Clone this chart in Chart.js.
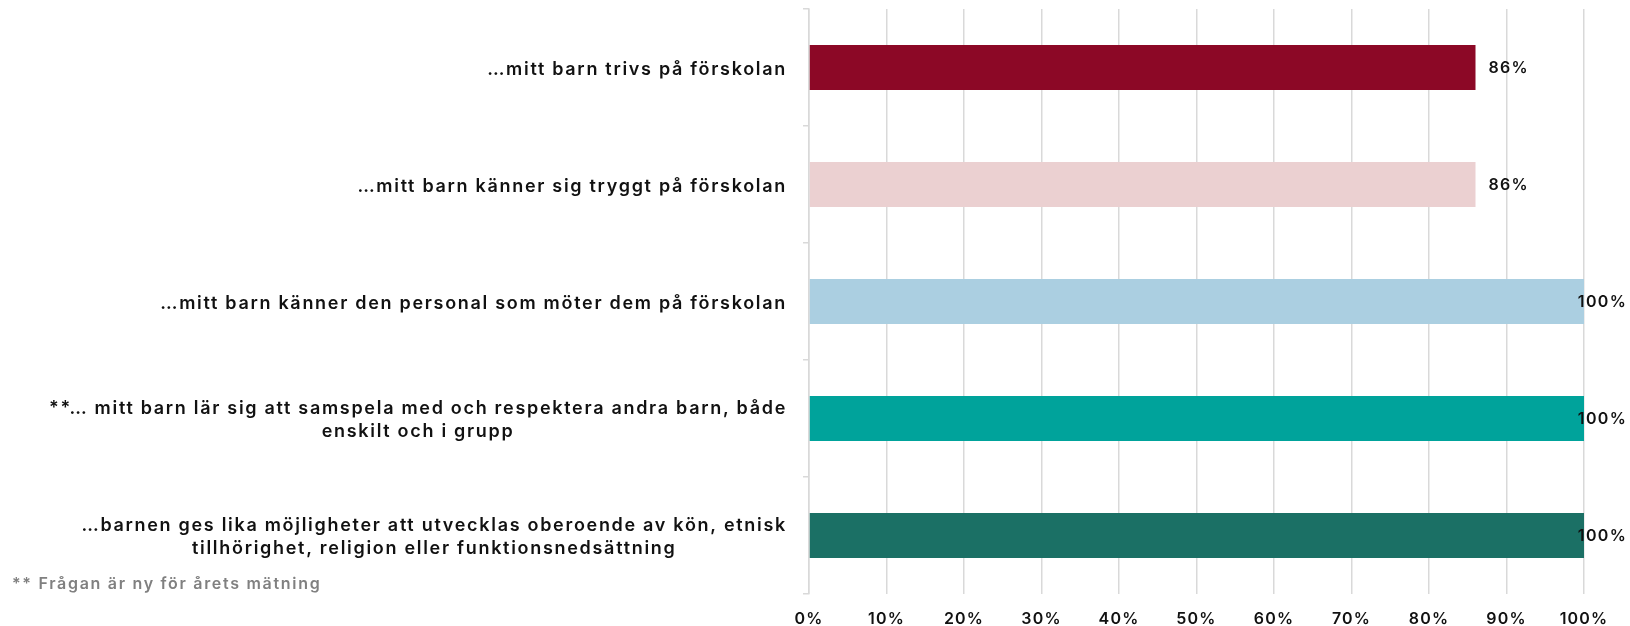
<!DOCTYPE html>
<html lang="sv">
<head>
<meta charset="utf-8">
<title>Förskolan – andel som instämmer</title>
<script src="https://cdn.jsdelivr.net/npm/chart.js@4.4.1/dist/chart.umd.min.js"></script>
<style>
  html, body { margin: 0; padding: 0; background: #fff; }
  canvas { display: block; }
</style>
</head>
<body>
<canvas id="chart" width="1630" height="626"></canvas>
<script>
'use strict';

// ── Data ─────────────────────────────────────────────────────────────────────
const categories = [
  ['…mitt barn trivs på förskolan'],
  ['…mitt barn känner sig tryggt på förskolan'],
  ['…mitt barn känner den personal som möter dem på förskolan'],
  ['**… mitt barn lär sig att samspela med och respektera andra barn, både', 'enskilt och i grupp'],
  ['…barnen ges lika möjligheter att utvecklas oberoende av kön, etnisk', 'tillhörighet, religion eller funktionsnedsättning'],
];
const values    = [86, 86, 100, 100, 100];
const barColors = ['#8c0826', '#ebd0d1', '#abcfe1', '#00a39b', '#1b7065'];
const xTicks    = [0, 10, 20, 30, 40, 50, 60, 70, 80, 90, 100];
const footnote  = '** Frågan är ny för årets mätning';

// ── Styling ──────────────────────────────────────────────────────────────────
const FONT_FAMILY = 'Inter, "Liberation Sans", Arial, sans-serif';
const GRID_COLOR  = '#d9d9d9';
const TEXT_COLOR  = '#111111';
const LINE_H      = 23;

// y-axis labels: right aligned per label, multi-line rows centred on each other
const categoryLabels = {
  id: 'categoryLabels',
  afterDraw(chart) {
    const { ctx } = chart;
    const y = chart.scales.y;
    const rightEdge = y.right - 22;
    ctx.save();
    ctx.font = `600 18px ${FONT_FAMILY}`;
    ctx.letterSpacing = '1.7px';
    ctx.fillStyle = TEXT_COLOR;
    ctx.textAlign = 'center';
    ctx.textBaseline = 'middle';
    categories.forEach((lines, i) => {
      const cy = y.getPixelForValue(i);
      const widest = Math.max(...lines.map(l => ctx.measureText(l).width));
      const cx = rightEdge - widest / 2;
      const y0 = cy - (lines.length - 1) * LINE_H / 2 + 2;
      lines.forEach((l, j) => ctx.fillText(l, cx, y0 + j * LINE_H));
    });

    ctx.font = `600 16px ${FONT_FAMILY}`;
    ctx.letterSpacing = '1.7px';
    ctx.fillStyle = '#808080';
    ctx.textAlign = 'left';
    ctx.fillText(footnote, 12, 584);
    ctx.restore();
  },
};

// value labels after the bar end, kept inside the canvas
const valueLabels = {
  id: 'valueLabels',
  afterDatasetsDraw(chart) {
    const { ctx } = chart;
    const meta = chart.getDatasetMeta(0);
    ctx.save();
    ctx.font = `600 16px ${FONT_FAMILY}`;
    ctx.letterSpacing = '1.3px';
    ctx.fillStyle = TEXT_COLOR;
    ctx.textAlign = 'left';
    ctx.textBaseline = 'middle';
    meta.data.forEach((bar, i) => {
      const txt = values[i] + '%';
      const w = ctx.measureText(txt).width;
      const x = Math.min(bar.x + 13, chart.width - w - 3);
      ctx.fillText(txt, x, bar.y + 1);
    });
    ctx.restore();
  },
};

// spacing for the library-drawn x tick labels
const spacing = {
  id: 'spacing',
  beforeDraw(chart) { chart.ctx.letterSpacing = '1.2px'; },
};

new Chart(document.getElementById('chart'), {
  type: 'bar',
  data: {
    labels: categories.map(l => l.join(' ')),
    datasets: [{
      data: values,
      backgroundColor: barColors,
      barPercentage: 0.385,
      categoryPercentage: 1,
    }],
  },
  options: {
    indexAxis: 'y',
    responsive: false,
    devicePixelRatio: 1,
    animation: false,
    layout: { padding: { top: 9, right: 46, left: 0, bottom: 0 } },
    plugins: { legend: { display: false }, tooltip: { enabled: false } },
    scales: {
      x: {
        min: 0,
        max: 100,
        afterBuildTicks: s => { s.ticks = xTicks.map(v => ({ value: v })); },
        afterFit: s => { s.height = 32; },
        ticks: {
          callback: v => v + '%',
          color: TEXT_COLOR,
          font: { family: FONT_FAMILY, size: 16, weight: 600 },
          padding: 16,
          maxRotation: 0,
        },
        grid: { color: GRID_COLOR, lineWidth: 1.5, drawTicks: false },
        border: { display: false },
      },
      y: {
        afterFit: s => { s.width = 809; },
        ticks: { display: false },
        grid: { drawOnChartArea: false, drawTicks: true, tickLength: 6, color: GRID_COLOR, lineWidth: 1.5 },
        border: { color: GRID_COLOR, width: 1.5 },
      },
    },
  },
  plugins: [spacing, valueLabels, categoryLabels],
});
</script>
</body>
</html>
